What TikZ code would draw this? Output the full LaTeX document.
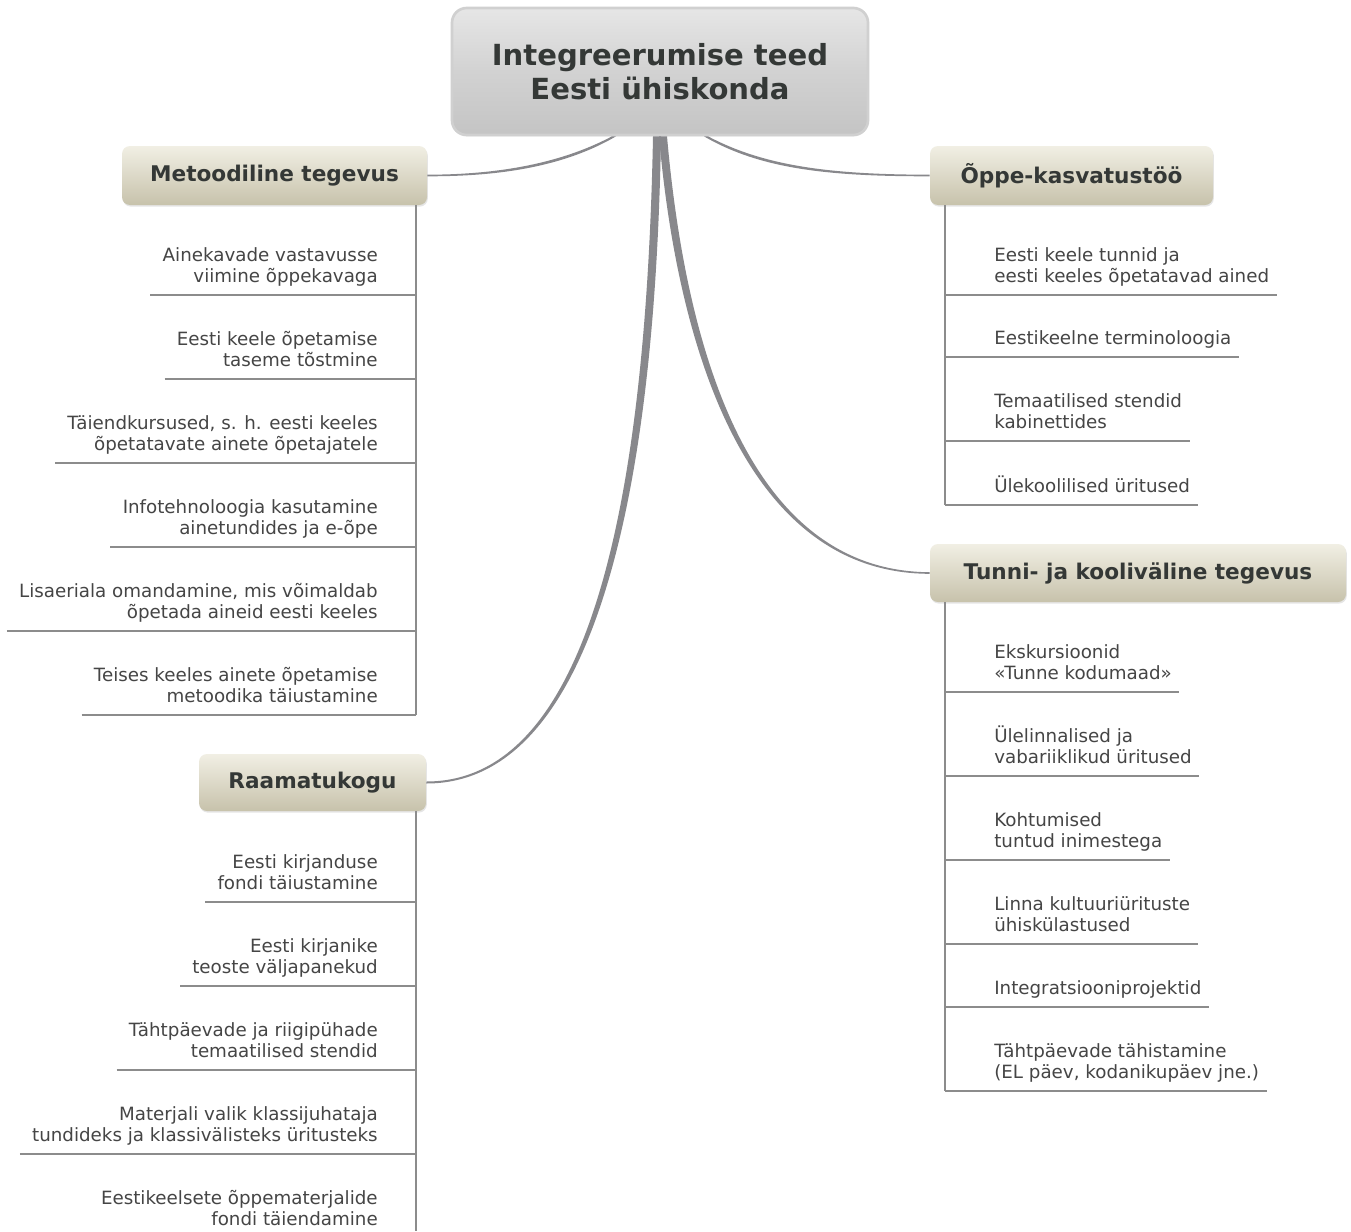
\documentclass[tikz,border=0pt]{standalone}
\usepackage{fontspec}
\setmainfont{DejaVu Sans}
\usetikzlibrary{calc,shadows}
\definecolor{conn}{HTML}{88888C}
\definecolor{lin}{HTML}{8C8C8C}
\definecolor{txt}{HTML}{454545}
\definecolor{ttl}{HTML}{343836}
\definecolor{bgtop}{HTML}{F1EFE4}
\definecolor{bgbot}{HTML}{C7C2AB}
\definecolor{rtop}{HTML}{E6E6E6}
\definecolor{rmid}{HTML}{D2D2D2}
\definecolor{rbot}{HTML}{C4C4C4}
\definecolor{rbord}{HTML}{D0D0D0}
\tikzset{
  rootbox/.style={rounded corners=11pt, draw=rbord, line width=2pt, top color=rtop, bottom color=rbot, middle color=rmid,
    minimum width=312pt, minimum height=95.25pt, inner sep=0pt, align=center, text=ttl,
    font=\bfseries\fontsize{21.8pt}{25.5pt}\selectfont,
    drop shadow={opacity=0.18, shadow xshift=0pt, shadow yshift=-1pt}},
  branch/.style={rounded corners=6pt, top color=bgtop, bottom color=bgbot, inner sep=0pt, text=ttl,
    font=\bfseries\fontsize{16.2pt}{19pt}\selectfont, minimum height=44pt,
    drop shadow={opacity=0.2, shadow xshift=0.6pt, shadow yshift=-1.2pt}},
  itemtext/.style={font=\fontsize{13.7pt}{15.75pt}\selectfont, text=txt, inner xsep=0pt, inner ysep=0pt, text depth=9pt},
  litem/.style={itemtext, align=right, anchor=south east},
  ritem/.style={itemtext, align=left, anchor=south west},
  lin/.style={draw=lin, line width=1pt},
}
\begin{document}
\begin{tikzpicture}[x=0.75pt,y=-0.75pt]
\useasboundingbox (0,0) rectangle (1351,1231);
\fill[white] (0,0) rectangle (1351,1231);

% branch nodes
\node[branch, minimum width=228.75pt, minimum height=44.25pt] (meto) at (274.5,175.5) {Metoodiline tegevus};
\node[branch, minimum width=170.25pt, minimum height=42.75pt] (raam) at (312.5,782.5) {Raamatukogu};
\node[branch, minimum width=212.25pt, minimum height=44.25pt] (oppe) at (1071.5,175.5) {Õppe-kasvatustöö};
\node[branch, minimum width=312pt, minimum height=43.5pt] (tunni) at (1138,573) {Tunni- ja kooliväline tegevus};

% root
\node[rootbox] (root) at (660,71.5) {Integreerumise teed\\Eesti ühiskonda};

% tapered connectors
\fill[conn] ($(root.south)+(-48,0)$) .. controls (556,166) and (490,174.6) .. ($(meto.east)+(0,-0.8)$)
   -- ($(meto.east)+(0,0.8)$) .. controls (492,176.4) and (560,169) .. ($(root.south)+(-44,0)$) -- cycle;
\fill[conn] ($(root.south)+(44,0)$) .. controls (760,169) and (828,176.4) .. ($(oppe.west)+(0,0.8)$)
   -- ($(oppe.west)+(0,-0.8)$) .. controls (830,174.6) and (764,166) .. ($(root.south)+(48,0)$) -- cycle;
\fill[conn] ($(root.south)+(-7,0)$) .. controls (646,500) and (590,781.5) .. ($(raam.east)+(0,-1)$)
   -- ($(raam.east)+(0,1)$) .. controls (592,783.5) and (655,500) .. ($(root.south)+(1,0)$) -- cycle;
\fill[conn] ($(root.south)+(-1,0)$) .. controls (676,331) and (739,573.6) .. ($(tunni.west)+(0,0.8)$)
   -- ($(tunni.west)+(0,-0.8)$) .. controls (741,571.4) and (684,329) .. ($(root.south)+(7,0)$) -- cycle;

% spine coordinates
\coordinate (mx) at (416,0);
\coordinate (ox) at (945,0);
\coordinate (rend) at (416,1231);

% Metoodiline tegevus items
\node[litem] (m1) at (378,295) {Ainekavade vastavusse\\viimine õppekavaga};
\node[litem] (m2) at (378,379) {Eesti keele õpetamise\\taseme tõstmine};
\node[litem] (m3) at (378,463) {Täiendkursused, s. h. eesti keeles\\õpetatavate ainete õpetajatele};
\node[litem] (m4) at (378,547) {Infotehnoloogia kasutamine\\ainetundides ja e-õpe};
\node[litem] (m5) at (378,631) {Lisaeriala omandamine, mis võimaldab\\õpetada aineid eesti keeles};
\node[litem] (m6) at (378,715) {Teises keeles ainete õpetamise\\metoodika täiustamine};
\draw[lin] (meto.south -| mx) -- (m6.south -| mx);
\foreach \n in {m1,m2,m3,m4,m5,m6}{
  \draw[lin] ([xshift=-9pt]\n.south west) -- (\n.south -| mx);
}

% Raamatukogu items
\node[litem] (r1) at (378,902) {Eesti kirjanduse\\fondi täiustamine};
\node[litem] (r2) at (378,986) {Eesti kirjanike\\teoste väljapanekud};
\node[litem] (r3) at (378,1070) {Tähtpäevade ja riigipühade\\temaatilised stendid};
\node[litem] (r4) at (378,1154) {Materjali valik klassijuhataja\\tundideks ja klassivälisteks üritusteks};
\node[litem] (r5) at (378,1238) {Eestikeelsete õppematerjalide\\fondi täiendamine};
\draw[lin] (raam.south -| mx) -- (rend);
\foreach \n in {r1,r2,r3,r4}{
  \draw[lin] ([xshift=-9pt]\n.south west) -- (\n.south -| mx);
}

% Õppe-kasvatustöö items
\node[ritem] (o1) at (994,295) {Eesti keele tunnid ja\\eesti keeles õpetatavad ained};
\node[ritem] (o2) at (994,357) {Eestikeelne terminoloogia};
\node[ritem] (o3) at (994,441) {Temaatilised stendid\\kabinettides};
\node[ritem] (o4) at (994,505) {Ülekoolilised üritused};
\draw[lin] (oppe.south -| ox) -- (o4.south -| ox);
\foreach \n in {o1,o2,o3,o4}{
  \draw[lin] (\n.south -| ox) -- ([xshift=5.5pt]\n.south east);
}

% Tunni- ja kooliväline tegevus items
\node[ritem] (t1) at (994,692) {Ekskursioonid\\«Tunne kodumaad»};
\node[ritem] (t2) at (994,776) {Ülelinnalised ja\\vabariiklikud üritused};
\node[ritem] (t3) at (994,860) {Kohtumised\\tuntud inimestega};
\node[ritem] (t4) at (994,944) {Linna kultuuriürituste\\ühiskülastused};
\node[ritem] (t5) at (994,1007) {Integratsiooniprojektid};
\node[ritem] (t6) at (994,1091) {Tähtpäevade tähistamine\\(EL päev, kodanikupäev jne.)};
\draw[lin] (tunni.south -| ox) -- (t6.south -| ox);
\foreach \n in {t1,t2,t3,t4,t5,t6}{
  \draw[lin] (\n.south -| ox) -- ([xshift=5.5pt]\n.south east);
}
\end{tikzpicture}
\end{document}
